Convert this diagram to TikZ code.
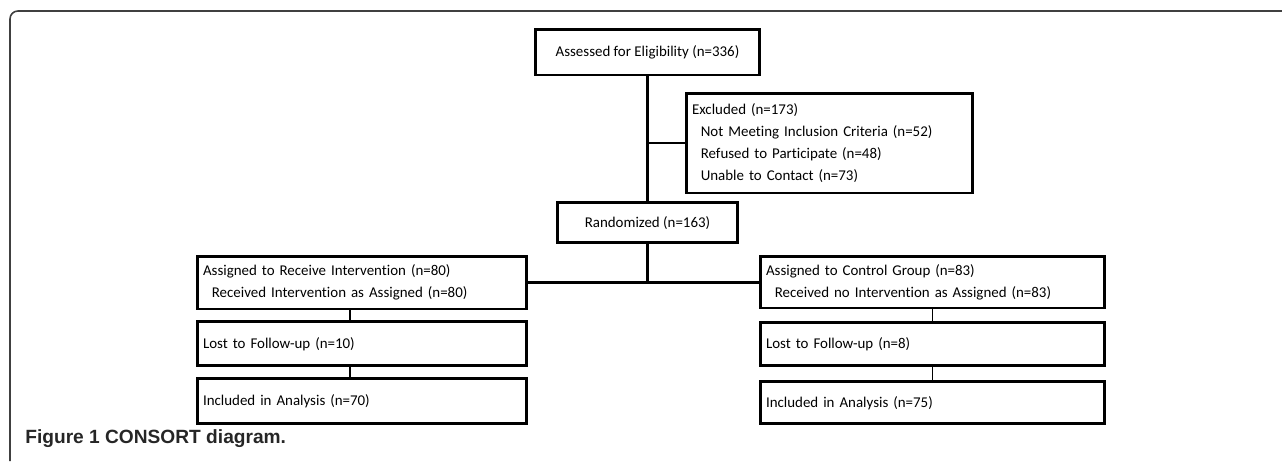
\documentclass[tikz,border=0pt]{standalone}
\usepackage{fontspec}
\setmainfont{Carlito}[Ligatures=NoCommon]
\newfontfamily\legende{Liberation Sans}
\usetikzlibrary{positioning, calc}
\tikzset{
    %Define style for boxes
    etape/.style={
           rectangle,
           draw=black, line width=1.7pt,
           font=\fontsize{8.5}{12.5}\selectfont,
           inner sep=0pt,
           text centered},
    % boxes with left aligned text
    liste/.style={
           etape,
           align=left,
           inner xsep=0.12cm,
           text width=#1},
    % Define line styles
    lien/.style={
           line width=1.6pt},
    fil/.style={
           line width=0.6pt},
    cadre/.style={
           draw=black!75, line width=0.9pt,
           rounded corners=4.5pt},
    titre/.style={
           font=\legende\bfseries\fontsize{10.9}{13}\selectfont,
           text=black!85,
           inner sep=0pt}
}

\begin{document}
\begin{tikzpicture}[x=0.02cm, y=-0.02cm, node distance=0.2cm]
	\useasboundingbox (0,0) rectangle (1282,461);
	\draw[cadre] (10,461) -- (10,11) -- (1282,11);
	%
	% noeuds
	%
	\node[etape, minimum width=4.5cm, minimum height=0.92cm] (eligib) at (647.5,52) {Assessed for Eligibility (n=336)};
	\node[etape, minimum width=3.62cm, minimum height=0.8cm, below=2.5cm of eligib] (random) {Randomized (n=163)};
	\node[liste=5.5cm, minimum height=2cm] (exclus) at (829.5,143) {Excluded (n=173)\\
		\hspace*{5pt}Not Meeting Inclusion Criteria (n=52)\\
		\hspace*{5pt}Refused to Participate (n=48)\\
		\hspace*{5pt}Unable to Contact (n=73)};
	\node[liste=6.36cm, minimum height=1.06cm] (interv) at (362,282.5) {Assigned to Receive Intervention (n=80)\\
		\hspace*{5pt}Received Intervention as Assigned (n=80)};
	\node[liste=6.36cm, minimum height=0.88cm, below=of interv] (perdu1) {Lost to Follow-up (n=10)};
	\node[liste=6.36cm, minimum height=0.9cm, below=of perdu1] (analyse1) {Included in Analysis (n=70)};
	\node[liste=6.66cm, minimum height=1.04cm] (controle) at (932.5,282) {Assigned to Control Group (n=83)\\
		\hspace*{5pt}Received no Intervention as Assigned (n=83)};
	\node[liste=6.66cm, minimum height=0.86cm, below=0.24cm of controle] (perdu2) {Lost to Follow-up (n=8)};
	\node[liste=6.66cm, minimum height=0.84cm, below=0.26cm of perdu2] (analyse2) {Included in Analysis (n=75)};
	\node[titre, anchor=base west] (legende) at (25,443) {Figure 1 CONSORT diagram.};
	%
	% Liens
	%
	\draw[lien] (eligib) -- (random);
	\draw[lien] (eligib.south |- exclus.west) -- (exclus.west);
	\draw[lien] (random.south) -- (random.south |- interv.east);
	\draw[lien] (interv.east) -- (interv.east -| controle.west);
	\draw[fil] ([xshift=-0.24cm]interv.south) -- ([xshift=-0.24cm]perdu1.north);
	\draw[fil] ([xshift=-0.24cm]perdu1.south) -- ([xshift=-0.24cm]analyse1.north);
	\draw[fil] (controle) -- (perdu2);
	\draw[fil] (perdu2) -- (analyse2);
\end{tikzpicture}
\end{document}
